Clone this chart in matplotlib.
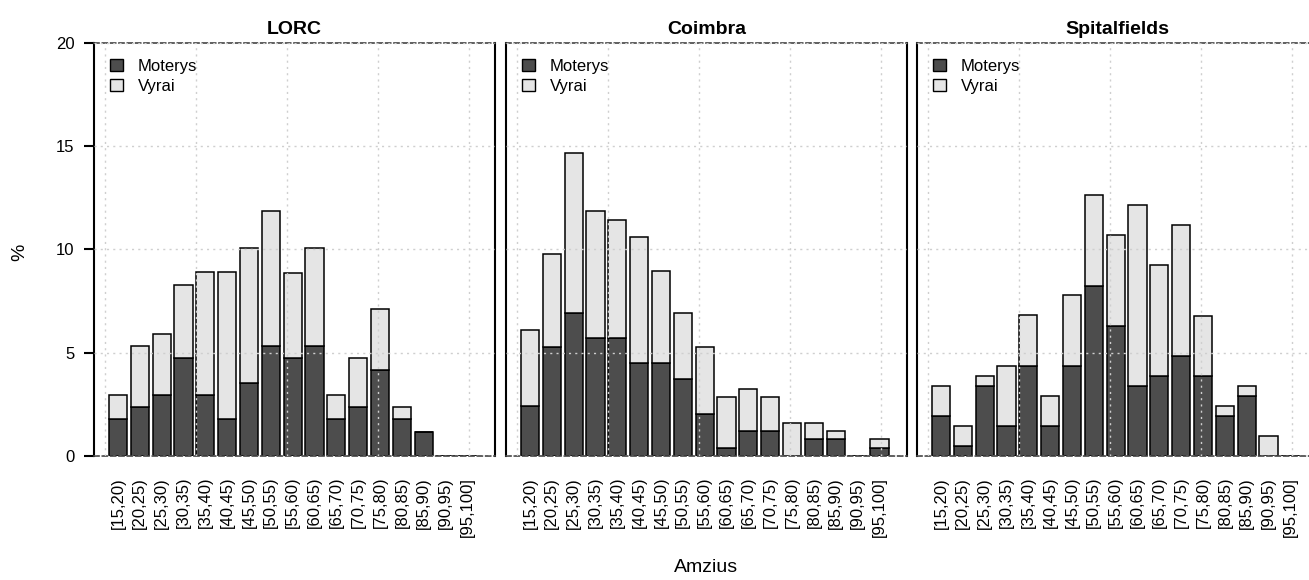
import numpy as np
import matplotlib
matplotlib.use("Agg")
import matplotlib.pyplot as plt
from matplotlib.patches import Patch

plt.rcParams['font.family'] = ['Liberation Sans', 'DejaVu Sans']

age_groups = ["[15,20)", "[20,25)", "[25,30)", "[30,35)", "[35,40)", "[40,45)",
              "[45,50)", "[50,55)", "[55,60)", "[60,65)", "[65,70)", "[70,75)",
              "[75,80)", "[80,85)", "[85,90)", "[90,95)", "[95,100]"]
sites = ["LORC", "Coimbra", "Spitalfields"]

# percentages, women (Moterys) and men (Vyrai)
lorc_moterys = [1.78, 2.37, 2.96, 4.73, 2.96, 1.78, 3.55, 5.33, 4.73, 5.33, 1.78, 2.37, 4.14, 1.78, 1.18, 0, 0]
lorc_vyrai = [1.18, 2.96, 2.96, 3.55, 5.92, 7.10, 6.51, 6.51, 4.14, 4.73, 1.18, 2.37, 2.96, 0.59, 0, 0, 0]

coimbra_moterys = [2.44, 5.29, 6.92, 5.69, 5.69, 4.48, 4.48, 3.71, 2.02, 0.40, 1.21, 1.21, 0, 0.81, 0.81, 0, 0.40]
coimbra_vyrai = [3.66, 4.48, 7.76, 6.15, 5.73, 6.10, 4.47, 3.21, 3.25, 2.44, 2.03, 1.63, 1.61, 0.80, 0.40, 0, 0.41]

spital_moterys = [1.94, 0.49, 3.40, 1.46, 4.37, 1.46, 4.37, 8.25, 6.31, 3.40, 3.88, 4.85, 3.88, 1.94, 2.91, 0, 0]
spital_vyrai = [1.46, 0.97, 0.49, 2.91, 2.43, 1.46, 3.40, 4.37, 4.37, 8.74, 5.34, 6.31, 2.91, 0.49, 0.49, 0.97, 0]

moterys = [lorc_moterys, coimbra_moterys, spital_moterys]
vyrai = [lorc_vyrai, coimbra_vyrai, spital_vyrai]

dark = '#4d4d4d'
light = '#e5e5e5'

W, H = 1309, 580
fig = plt.figure(figsize=(W / 100, H / 100), dpi=100)

lefts = [94, 506, 917]
pw = 401
top, bottom = 42.7, 456

# R barplot style positions
x = 0.7 + 1.2 * np.arange(len(age_groups))
xlim = (-0.616, 21.416)

for i, site in enumerate(sites):
    ax = fig.add_axes([lefts[i] / W, 1 - bottom / H, pw / W, (bottom - top) / H])
    m = np.array(moterys[i])
    v = np.array(vyrai[i])
    ax.bar(x, m, width=1.0, color=dark, edgecolor='black', linewidth=1.1, zorder=2)
    ax.bar(x, v, width=1.0, bottom=m, color=light, edgecolor='black', linewidth=1.1, zorder=2)

    # dotted grid on top of the bars
    for g in [0, 5, 10, 15, 20]:
        ax.axvline(g, color='#cfcfcf', lw=1.0, ls=(0, (1.5, 3)), zorder=3)
        ax.axhline(g, color='#cfcfcf', lw=1.0, ls=(0, (1.5, 3)), zorder=3)

    ax.set_xlim(xlim)
    ax.set_ylim(0, 20)
    ax.set_xticks(x)
    ax.set_xticklabels(age_groups, rotation=90, fontsize=12)
    ax.tick_params(axis='x', length=0, pad=15)

    for s in ['left', 'right']:
        ax.spines[s].set_linewidth(1.5)
        ax.spines[s].set_color('black')
    for s in ['top', 'bottom']:
        ax.spines[s].set_linewidth(1.2)
        ax.spines[s].set_color('#444444')
        ax.spines[s].set_linestyle((0, (3, 2)))

    if i == 0:
        ax.set_yticks([0, 5, 10, 15, 20])
        ax.tick_params(axis='y', length=7, width=1.5, labelsize=12, pad=7)
    else:
        ax.set_yticks([])

    ax.set_title(site, fontsize=14, fontweight='bold', pad=6)

    handles = [Patch(facecolor=dark, edgecolor='black', label='Moterys'),
               Patch(facecolor=light, edgecolor='black', label='Vyrai')]
    ax.legend(handles=handles, loc='upper left', frameon=False, fontsize=12,
              handlelength=0.78, handleheight=0.78, handletextpad=0.9,
              labelspacing=0.3, borderaxespad=0.55, bbox_to_anchor=(0.0, 1.0))

fig.text(20 / W, 1 - 252 / H, '%', rotation=90, fontsize=14, ha='center', va='center')
fig.text(706 / W, 1 - 567 / H, 'Amzius', fontsize=14, ha='center', va='center')

fig.savefig('out.png', dpi=100)
